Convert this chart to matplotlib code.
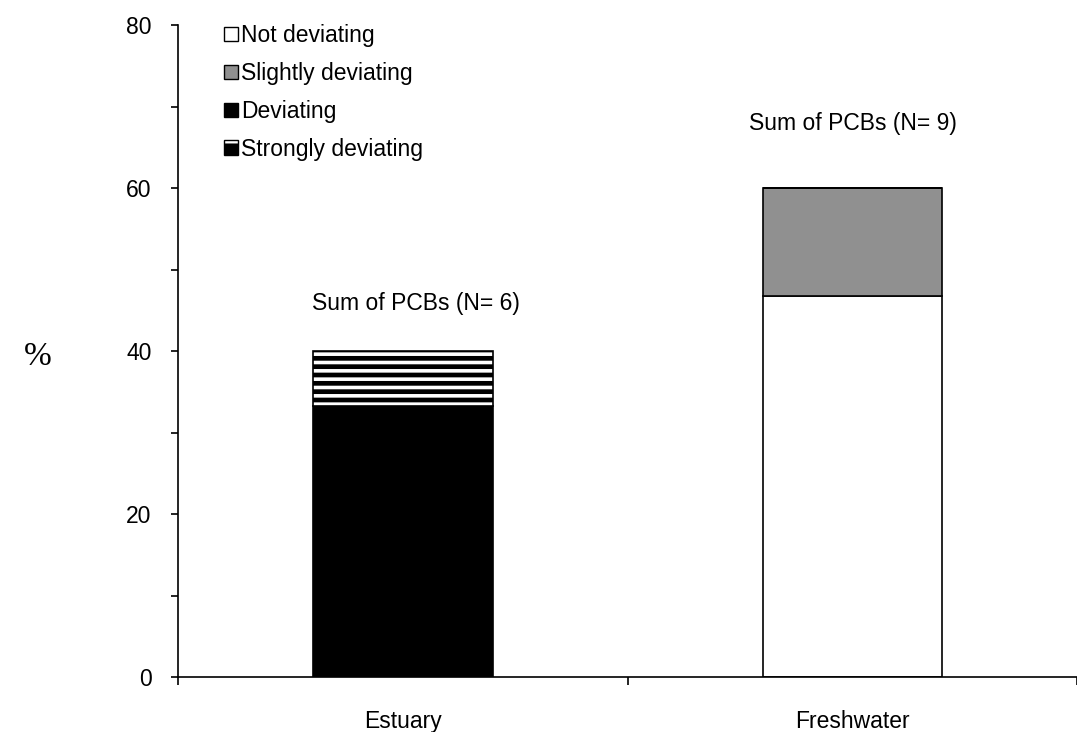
import matplotlib.pyplot as plt
from matplotlib.patches import Patch

plt.rcParams['font.family'] = ['Liberation Sans', 'DejaVu Sans']
plt.rcParams['hatch.linewidth'] = 2.6
plt.rcParams['hatch.color'] = 'white'

# data (percent)
sites = ['Estuary', 'Freshwater']
not_dev = [0, 46.7]
slightly = [0, 13.3]
deviating = [33.3, 0]
strongly = [6.7, 0]
notes = ['Sum of PCBs (N= 6)', 'Sum of PCBs (N= 9)']

fig = plt.figure(figsize=[10.77, 7.32], dpi=100)
ax = fig.add_axes([0.1653, 0.0751, 0.835, 0.8907])

x = list(range(len(sites)))
w = 0.4
ec = dict(edgecolor='black', linewidth=1.2)
ax.bar(x, not_dev, w, color='white', **ec)
b = list(not_dev)
ax.bar(x, slightly, w, bottom=b, color='#909090', **ec)
b = [b[i] + slightly[i] for i in x]
ax.bar(x, deviating, w, bottom=b, color='black', **ec)
b = [b[i] + deviating[i] for i in x]
# striped segment: white hatch on black, then black outline
ax.bar(x, strongly, w, bottom=b, color='black', edgecolor='white', hatch='--', linewidth=0)
ax.bar(x, strongly, w, bottom=b, fill=False, **ec)

# labels above bars
ax.text(0.03, 44.4, notes[0], ha='center', va='bottom', fontsize=16.5)
ax.text(1.0, 66.5, notes[1], ha='center', va='bottom', fontsize=16.5)

ax.set_xlim(-0.5, 1.5)
ax.set_ylim(0, 80)
ax.spines['top'].set_visible(False)
ax.spines['right'].set_visible(False)
ax.spines['left'].set_linewidth(1.2)
ax.spines['bottom'].set_linewidth(1.2)

ax.set_yticks([0, 20, 40, 60, 80])
ax.set_yticks([10, 30, 50, 70], minor=True)
ax.tick_params(axis='y', which='both', direction='out', length=5, width=1.2, pad=14, labelsize=16.5)

ax.set_xticks(x)
ax.set_xticklabels(sites)
ax.set_xticks([-0.5, 0.5, 1.5], minor=True)
ax.tick_params(axis='x', which='major', length=0, pad=24, labelsize=16.5)
ax.tick_params(axis='x', which='minor', length=6, width=1.2, direction='out')

fig.text(0.035, 0.513, '%', fontsize=24, family='Liberation Serif', ha='center', va='center')

handles = [
    Patch(facecolor='white', edgecolor='black'),
    Patch(facecolor='#909090', edgecolor='black'),
    Patch(facecolor='black', edgecolor='black'),
    (Patch(facecolor='black', edgecolor='white', hatch='-', linewidth=0),
     Patch(fill=False, edgecolor='black')),
]
labels = ['Not deviating', 'Slightly deviating', 'Deviating', 'Strongly deviating']
ax.legend(handles, labels, loc='upper left', bbox_to_anchor=(0.028, 1.033), frameon=False,
          fontsize=16.5, handlelength=0.6, handleheight=0.6, handletextpad=0.15, labelspacing=0.65)

fig.savefig('out.png', dpi=100)
